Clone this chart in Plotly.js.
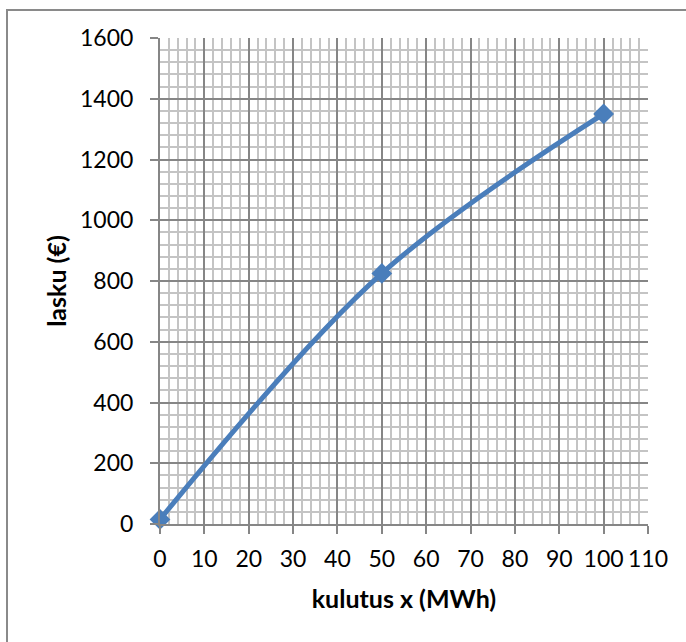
<!DOCTYPE html>
<html>
<head>
<meta charset="utf-8">
<script src="https://cdn.plot.ly/plotly-3.0.1.min.js"></script>
<style>
  html, body { margin: 0; padding: 0; background: #fff; }
  #chart { width: 686px; height: 642px; }
</style>
</head>
<body>
<div id="chart"></div>
<script>
// Data
const kulutus = [0, 50, 100];          // x: consumption (MWh)
const lasku = [15, 825, 1350];         // y: bill (€)
const xTickVals = [0, 10, 20, 30, 40, 50, 60, 70, 80, 90, 100, 110];
const yTickVals = [0, 200, 400, 600, 800, 1000, 1200, 1400, 1600];
const xTitle = 'kulutus x (MWh)';
const yTitle = 'lasku (€)';

const W = 686, H = 642;
const m = { l: 160, r: 38, t: 38, b: 118 };
const pw = W - m.l - m.r, ph = H - m.t - m.b;

const trace = {
  x: kulutus, y: lasku, type: 'scatter', mode: 'lines+markers',
  line: { color: '#4A7EBB', width: 5, shape: 'spline', smoothing: 1 },
  marker: { symbol: 'diamond', size: 16, color: '#4A7EBB', line: { width: 0 } },
  cliponaxis: false, hoverinfo: 'skip'
};

const axisFont = { family: 'Lato, "Open Sans", sans-serif', size: 23, color: '#000' };
const titleFont = { family: 'Lato, "Open Sans", sans-serif', size: 25, color: '#000', weight: 'bold' };

const layout = {
  width: W, height: H, margin: m,
  paper_bgcolor: '#fff', plot_bgcolor: '#fff', showlegend: false,
  xaxis: {
    range: [0, 110], tickvals: xTickVals, ticktext: xTickVals.map(String),
    ticks: 'outside', ticklen: 8, tickwidth: 2, tickcolor: '#868686',
    showgrid: true, gridcolor: '#868686', gridwidth: 2,
    minor: { dtick: 2, tick0: 0, showgrid: true, gridcolor: '#C4C4C4', gridwidth: 2, ticks: '' },
    showline: true, linecolor: '#868686', linewidth: 2, zeroline: false,
    tickfont: axisFont, ticklabelstandoff: 5,
    title: { text: '<b>' + xTitle + '</b>', font: titleFont, standoff: 20 },
    fixedrange: true
  },
  yaxis: {
    range: [0, 1600], tickvals: yTickVals, ticktext: yTickVals.map(String),
    ticks: 'outside', ticklen: 8, tickwidth: 2, tickcolor: '#868686',
    showgrid: true, gridcolor: '#868686', gridwidth: 2,
    minor: { dtick: 40, tick0: 0, showgrid: true, gridcolor: '#C4C4C4', gridwidth: 2, ticks: '' },
    showline: true, linecolor: '#868686', linewidth: 2, zeroline: false,
    tickfont: axisFont, ticklabelstandoff: 12,
    title: { text: '<b>' + yTitle + '</b>', font: titleFont, standoff: 6 },
    fixedrange: true
  },
  shapes: [{
    type: 'rect', xref: 'paper', yref: 'paper', layer: 'below',
    x0: (7 - m.l) / pw, x1: 2,
    y0: -2, y1: (H - m.b - 10) / ph,
    line: { color: '#8A8A8A', width: 2 },
    fillcolor: 'rgba(0,0,0,0)'
  }]
};

Plotly.newPlot('chart', [trace], layout, { displayModeBar: false, staticPlot: true });
</script>
</body>
</html>
